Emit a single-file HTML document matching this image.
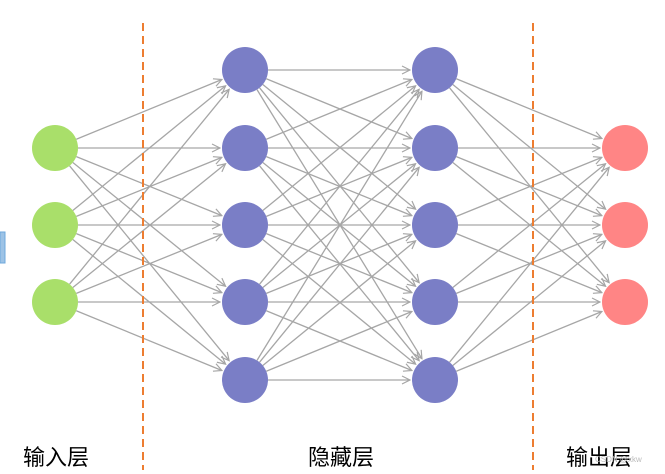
<!DOCTYPE html>
<html><head><meta charset="utf-8">
<style>
html,body{margin:0;padding:0;background:#fff;}
svg{display:block;}
text{font-family:"Liberation Sans","Noto Sans CJK SC",sans-serif;}
</style></head>
<body>
<svg id="s" width="665" height="474" viewBox="0 0 665 474" xmlns="http://www.w3.org/2000/svg">
<defs>
<marker id="a" markerWidth="10" markerHeight="10" refX="9" refY="5" orient="auto" markerUnits="userSpaceOnUse">
<path d="M1,1 L9,5 L1,9" fill="none" stroke="#a6a6a6" stroke-width="1.2"/>
</marker>
</defs>
<g id="lines" stroke="#a6a6a6" stroke-width="1.3" fill="none"></g>
<line x1="143" y1="23" x2="143" y2="470" stroke="#ed7d31" stroke-width="2" stroke-dasharray="8,5"/>
<line x1="533" y1="23" x2="533" y2="470" stroke="#ed7d31" stroke-width="2" stroke-dasharray="8,5"/>
<rect x="0" y="232" width="5" height="31" fill="#9dc3e6" stroke="#6fa8dc" stroke-width="1"/>
<g id="nodes"></g>
<text x="23" y="465" font-size="22" fill="#000">输入层</text>
<text x="308" y="465" font-size="22" fill="#000">隐藏层</text>
<text x="566" y="465" font-size="22" fill="#000">输出层</text>
<text x="595" y="462" font-size="8" fill="#bbb">CSDN @xkw</text>
</svg>
<script>
var L=[{x:55,ys:[148,225,302],c:"#a9df6a"},{x:245,ys:[70,148,225,302,380],c:"#7a7ec6"},{x:435,ys:[70,148,225,302,380],c:"#7a7ec6"},{x:625,ys:[148,225,302],c:"#ff8585"}];
var r=23,ns="http://www.w3.org/2000/svg",g=document.getElementById("lines"),n=document.getElementById("nodes");
for(var i=0;i<3;i++){var A=L[i],B=L[i+1];A.ys.forEach(function(y1){B.ys.forEach(function(y2){
var dx=B.x-A.x,dy=y2-y1,d=Math.sqrt(dx*dx+dy*dy),ux=dx/d,uy=dy/d;
var l=document.createElementNS(ns,"line");
l.setAttribute("x1",A.x+ux*r);l.setAttribute("y1",y1+uy*r);
l.setAttribute("x2",B.x-ux*(r+2));l.setAttribute("y2",y2-uy*(r+2));
l.setAttribute("marker-end","url(#a)");g.appendChild(l);});});}
L.forEach(function(a){a.ys.forEach(function(y){var c=document.createElementNS(ns,"circle");
c.setAttribute("cx",a.x);c.setAttribute("cy",y);c.setAttribute("r",r);c.setAttribute("fill",a.c);n.appendChild(c);});});
</script>
</body></html>
